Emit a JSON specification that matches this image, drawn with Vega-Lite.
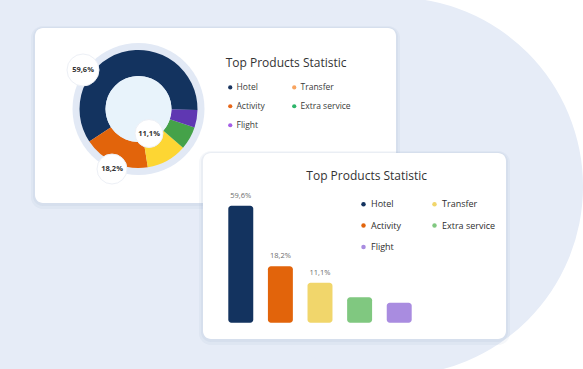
{
  "$schema": "https://vega.github.io/schema/vega-lite/v6.json",
  "width": 583,
  "height": 369,
  "padding": 0,
  "autosize": {"type": "none"},
  "background": "#ffffff",
  "config": {
    "view": {"stroke": null},
    "axis": {"disable": true},
    "font": "Open Sans",
    "locale": {"number": {"decimal": ",", "thousands": ".", "grouping": [3], "currency": ["", "€"]}}
  },
  "data": {"values": [
    {"product": "Hotel", "value": 0.596},
    {"product": "Activity", "value": 0.182},
    {"product": "Transfer", "value": 0.111},
    {"product": "Extra service", "value": 0.063},
    {"product": "Flight", "value": 0.048}
  ]},
  "resolve": {"scale": {"x": "independent", "y": "independent", "color": "independent"}},
  "layer": [
    {
      "layer": [
        {"data": {"values": [{}]}, "mark": {"type": "rect", "color": "#e6ecf7"},
         "encoding": {"x": {"datum": 0, "scale": {"domain": [0, 583], "nice": false, "zero": false}}, "x2": {"datum": 394},
                      "y": {"datum": 0, "scale": {"domain": [0, 369], "nice": false, "zero": false, "reverse": true}}, "y2": {"datum": 369}}},
        {"data": {"values": [{}]}, "mark": {"type": "point", "shape": "circle", "filled": true, "size": 142884, "color": "#e6ecf7", "opacity": 1},
         "encoding": {"x": {"datum": 394, "scale": {"domain": [0, 583], "nice": false, "zero": false}},
                      "y": {"datum": 186.5, "scale": {"domain": [0, 369], "nice": false, "zero": false, "reverse": true}}}},
        {"data": {"values": [{}]}, "mark": {"type": "rect", "color": "#9fb0d0", "opacity": 0.1, "cornerRadius": 12},
         "encoding": {"x": {"datum": 31, "scale": {"domain": [0, 583], "nice": false, "zero": false}}, "x2": {"datum": 400},
                      "y": {"datum": 26, "scale": {"domain": [0, 369], "nice": false, "zero": false, "reverse": true}}, "y2": {"datum": 209}}},
        {"data": {"values": [{}]}, "mark": {"type": "rect", "color": "#9fb0d0", "opacity": 0.12, "cornerRadius": 10},
         "encoding": {"x": {"datum": 33, "scale": {"domain": [0, 583], "nice": false, "zero": false}}, "x2": {"datum": 398},
                      "y": {"datum": 27, "scale": {"domain": [0, 369], "nice": false, "zero": false, "reverse": true}}, "y2": {"datum": 206}}},
        {"data": {"values": [{}]}, "mark": {"type": "rect", "color": "#ffffff", "cornerRadius": 8},
         "encoding": {"x": {"datum": 35, "scale": {"domain": [0, 583], "nice": false, "zero": false}}, "x2": {"datum": 396},
                      "y": {"datum": 28, "scale": {"domain": [0, 369], "nice": false, "zero": false, "reverse": true}}, "y2": {"datum": 203}}},
        {"data": {"values": [{}]}, "mark": {"type": "point", "shape": "circle", "filled": true, "size": 17424, "color": "#e2e9f5", "opacity": 1},
         "encoding": {"x": {"datum": 138.5, "scale": {"domain": [0, 583], "nice": false, "zero": false}},
                      "y": {"datum": 109, "scale": {"domain": [0, 369], "nice": false, "zero": false, "reverse": true}}}},
        {"mark": {"type": "arc", "radius": 59, "radius2": 33},
         "encoding": {
           "x": {"datum": 138.5, "scale": {"domain": [0, 583], "nice": false, "zero": false}},
           "y": {"datum": 109, "scale": {"domain": [0, 369], "nice": false, "zero": false, "reverse": true}},
           "theta": {"field": "value", "type": "quantitative", "stack": true, "scale": {"range": [1.5882, -4.695]}},
           "order": {"field": "value", "sort": "descending"},
           "color": {"field": "product", "type": "nominal",
                     "scale": {"domain": ["Hotel", "Transfer", "Activity", "Extra service", "Flight"],
                               "range": ["#13335f", "#fdd633", "#e2640b", "#45a249", "#5f37b2"]},
                     "legend": null}
         }},
        {"data": {"values": [{}]}, "mark": {"type": "point", "shape": "circle", "filled": true, "size": 4356, "color": "#e8f3fb", "opacity": 1},
         "encoding": {"x": {"datum": 138.5, "scale": {"domain": [0, 583], "nice": false, "zero": false}},
                      "y": {"datum": 109, "scale": {"domain": [0, 369], "nice": false, "zero": false, "reverse": true}}}},
        {"transform": [{"filter": "datum.product === 'Hotel'"}],
         "encoding": {"x": {"datum": 83, "scale": {"domain": [0, 583], "nice": false, "zero": false}},
                      "y": {"datum": 70, "scale": {"domain": [0, 369], "nice": false, "zero": false, "reverse": true}}},
         "layer": [
           {"mark": {"type": "point", "shape": "circle", "filled": true, "size": 1024, "color": "#ffffff", "opacity": 1, "stroke": "#edf0f6", "strokeWidth": 1}},
           {"mark": {"type": "text", "fontSize": 7.5, "fontWeight": "bold", "color": "#333333", "font": "Open Sans"},
            "encoding": {"text": {"field": "value", "type": "quantitative", "format": ".1%"}}}
         ]},
        {"transform": [{"filter": "datum.product === 'Activity'"}],
         "encoding": {"x": {"datum": 112, "scale": {"domain": [0, 583], "nice": false, "zero": false}},
                      "y": {"datum": 169, "scale": {"domain": [0, 369], "nice": false, "zero": false, "reverse": true}}},
         "layer": [
           {"mark": {"type": "point", "shape": "circle", "filled": true, "size": 900, "color": "#ffffff", "opacity": 1, "stroke": "#edf0f6", "strokeWidth": 1}},
           {"mark": {"type": "text", "fontSize": 7.5, "fontWeight": "bold", "color": "#333333", "font": "Open Sans"},
            "encoding": {"text": {"field": "value", "type": "quantitative", "format": ".1%"}}}
         ]},
        {"transform": [{"filter": "datum.product === 'Transfer'"}],
         "encoding": {"x": {"datum": 149, "scale": {"domain": [0, 583], "nice": false, "zero": false}},
                      "y": {"datum": 133.5, "scale": {"domain": [0, 369], "nice": false, "zero": false, "reverse": true}}},
         "layer": [
           {"mark": {"type": "point", "shape": "circle", "filled": true, "size": 784, "color": "#ffffff", "opacity": 1, "stroke": "#edf0f6", "strokeWidth": 1}},
           {"mark": {"type": "text", "fontSize": 7.5, "fontWeight": "bold", "color": "#333333", "font": "Open Sans"},
            "encoding": {"text": {"field": "value", "type": "quantitative", "format": ".1%"}}}
         ]},
        {"data": {"values": [{}]}, "mark": {"type": "text", "text": "Top Products Statistic", "align": "left", "baseline": "middle", "fontSize": 12, "color": "#333333", "font": "Open Sans"},
         "encoding": {"x": {"datum": 225.7, "scale": {"domain": [0, 583], "nice": false, "zero": false}},
                      "y": {"datum": 63.3, "scale": {"domain": [0, 369], "nice": false, "zero": false, "reverse": true}}}},
        {"data": {"values": [{}]}, "mark": {"type": "rect", "color": "#9fb0d0", "opacity": 0.1, "cornerRadius": 12},
         "encoding": {"x": {"datum": 199, "scale": {"domain": [0, 583], "nice": false, "zero": false}}, "x2": {"datum": 510},
                      "y": {"datum": 151, "scale": {"domain": [0, 369], "nice": false, "zero": false, "reverse": true}}, "y2": {"datum": 345}}},
        {"data": {"values": [{}]}, "mark": {"type": "rect", "color": "#9fb0d0", "opacity": 0.12, "cornerRadius": 10},
         "encoding": {"x": {"datum": 201, "scale": {"domain": [0, 583], "nice": false, "zero": false}}, "x2": {"datum": 508},
                      "y": {"datum": 152, "scale": {"domain": [0, 369], "nice": false, "zero": false, "reverse": true}}, "y2": {"datum": 342}}},
        {"data": {"values": [{}]}, "mark": {"type": "rect", "color": "#ffffff", "cornerRadius": 8},
         "encoding": {"x": {"datum": 203, "scale": {"domain": [0, 583], "nice": false, "zero": false}}, "x2": {"datum": 506},
                      "y": {"datum": 153, "scale": {"domain": [0, 369], "nice": false, "zero": false, "reverse": true}}, "y2": {"datum": 339}}},
        {"data": {"values": [{}]}, "mark": {"type": "text", "text": "Top Products Statistic", "align": "center", "baseline": "middle", "fontSize": 12, "color": "#333333", "font": "Open Sans"},
         "encoding": {"x": {"datum": 366.7, "scale": {"domain": [0, 583], "nice": false, "zero": false}},
                      "y": {"datum": 176, "scale": {"domain": [0, 369], "nice": false, "zero": false, "reverse": true}}}}
      ]
    },
    {
      "mark": {"type": "point", "shape": "circle", "filled": true, "opacity": 0},
      "encoding": {
        "x": {"datum": 138.5, "scale": {"domain": [0, 583], "nice": false, "zero": false}},
        "y": {"datum": 109, "scale": {"domain": [0, 369], "nice": false, "zero": false, "reverse": true}},
        "color": {"field": "product", "type": "nominal",
                  "scale": {"domain": ["Hotel", "Transfer", "Activity", "Extra service", "Flight"],
                            "range": ["#1a3560", "#f8a460", "#e8681a", "#2db56a", "#a55ee6"]},
                  "legend": {"orient": "none", "legendX": 226, "legendY": 83, "title": null, "columns": 2, "direction": "horizontal",
                             "symbolType": "circle", "symbolSize": 18, "symbolOpacity": 1, "symbolStrokeWidth": 0,
                             "labelFontSize": 8.5, "labelColor": "#3a3a3a",
                             "labelFont": "Open Sans", "rowPadding": 10, "columnPadding": 25, "labelOffset": 2, "padding": 0}}
      }
    },
    {
      "layer": [
        {"mark": {"type": "bar", "cornerRadius": 3},
         "encoding": {
           "x": {"field": "product", "type": "nominal", "sort": ["Hotel", "Activity", "Transfer", "Extra service", "Flight"],
                 "scale": {"range": [228.3, 411.7], "paddingInner": 0.37, "paddingOuter": 0}},
           "y": {"field": "value", "type": "quantitative",
                 "scale": {"type": "sqrt", "domain": [0.0111, 0.596], "range": [322.7, 205.7], "clamp": true, "zero": false, "nice": false}},
           "y2": {"datum": 0},
           "color": {"field": "product", "type": "nominal",
                     "scale": {"domain": ["Hotel", "Transfer", "Activity", "Extra service", "Flight"],
                               "range": ["#13335f", "#f1d66b", "#e2640b", "#80c880", "#a98ce0"]},
                     "legend": {"orient": "none", "legendX": 359, "legendY": 199.5, "title": null, "columns": 2, "direction": "horizontal",
                                "symbolType": "circle", "symbolSize": 20, "symbolStrokeWidth": 0, "labelFontSize": 9, "labelColor": "#2e2e2e",
                                "labelFont": "Open Sans", "rowPadding": 11.5, "columnPadding": 29, "labelOffset": 3, "padding": 0}}
         }},
        {"transform": [{"filter": "datum.value >= 0.1"}],
         "mark": {"type": "text", "baseline": "bottom", "dy": -6, "fontSize": 7.5, "color": "#6d6d6d", "font": "Open Sans"},
         "encoding": {
           "x": {"field": "product", "type": "nominal", "sort": ["Hotel", "Activity", "Transfer", "Extra service", "Flight"],
                 "scale": {"range": [228.3, 411.7], "paddingInner": 0.37, "paddingOuter": 0}},
           "y": {"field": "value", "type": "quantitative",
                 "scale": {"type": "sqrt", "domain": [0.0111, 0.596], "range": [322.7, 205.7], "clamp": true, "zero": false, "nice": false}},
           "text": {"field": "value", "type": "quantitative", "format": ".1%"}
         }}
      ]
    }
  ]
}
